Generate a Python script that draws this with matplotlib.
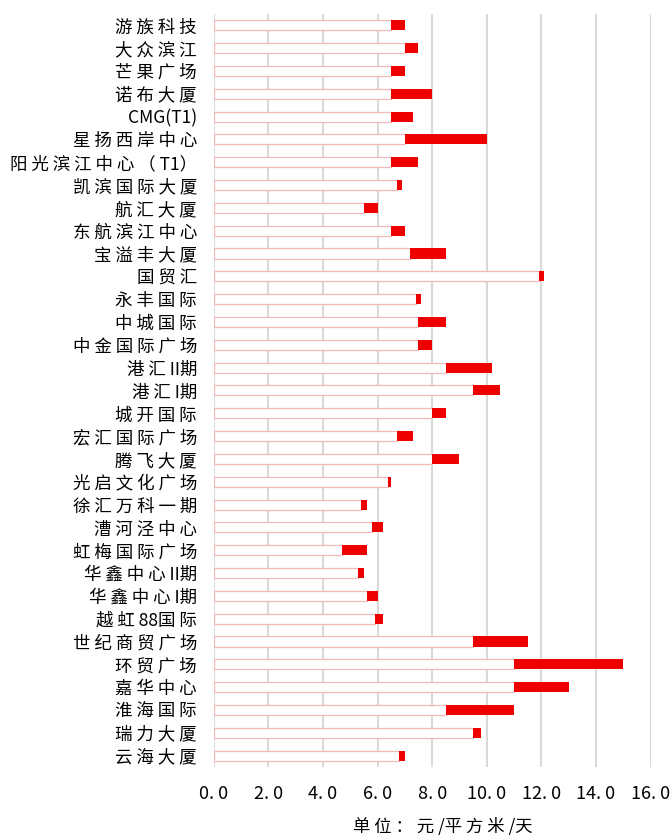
import numpy as np
import matplotlib
matplotlib.use('Agg')
import matplotlib.pyplot as plt

plt.rcParams['font.family'] = ['Noto Sans CJK SC', 'DejaVu Sans']

# 楼宇名称（从上到下）
buildings = ['游族科技', '大众滨江', '芒果广场', '诺布大厦', 'CMG(T1)', '星扬西岸中心',
             '阳光滨江中心（T1）', '凯滨国际大厦', '航汇大厦', '东航滨江中心', '宝溢丰大厦',
             '国贸汇', '永丰国际', '中城国际', '中金国际广场', '港汇II期', '港汇I期',
             '城开国际', '宏汇国际广场', '腾飞大厦', '光启文化广场', '徐汇万科一期',
             '漕河泾中心', '虹梅国际广场', '华鑫中心II期', '华鑫中心I期', '越虹88国际',
             '世纪商贸广场', '环贸广场', '嘉华中心', '淮海国际', '瑞力大厦', '云海大厦']
# 租金下限 / 上限（元/平方米/天）
rent_low = [6.5, 7.0, 6.5, 6.5, 6.5, 7.0, 6.5, 6.7, 5.5, 6.5, 7.2,
            11.9, 7.4, 7.5, 7.5, 8.5, 9.5, 8.0, 6.7, 8.0, 6.4, 5.4,
            5.8, 4.7, 5.3, 5.6, 5.9, 9.5, 11.0, 11.0, 8.5, 9.5, 6.8]
rent_high = [7.0, 7.5, 7.0, 8.0, 7.3, 10.0, 7.5, 6.9, 6.0, 7.0, 8.5,
             12.1, 7.6, 8.5, 8.0, 10.2, 10.5, 8.5, 7.3, 9.0, 6.5, 5.6,
             6.2, 5.6, 5.5, 6.0, 6.2, 11.5, 15.0, 13.0, 11.0, 9.8, 7.0]
xticks = np.arange(0, 16.1, 2)


def spaced(s):
    # 原图字体字距较宽，中文字符后补一个空格
    out = ''
    for i, ch in enumerate(s):
        out += ch
        if ord(ch) > 0x2000 and i < len(s) - 1:
            out += ' '
    return out


low = np.array(rent_low)
high = np.array(rent_high)
pos = np.arange(len(buildings))

fig = plt.figure(figsize=(6.7, 8.35), dpi=100)
ax = fig.add_axes([0.319, 0.0814, 0.652, 0.902])

ax.barh(pos, low, height=0.44, color='white', edgecolor='#f5b8b8', linewidth=0.9, zorder=2)
ax.barh(pos, high - low, left=low, height=0.44, color='#ee0000', edgecolor='none', zorder=3)

ax.set_xlim(0, 16)
ax.set_ylim(len(buildings) - 0.5, -0.5)
ax.set_xticks(xticks)
ax.set_xticklabels([f'{v:.1f}'.replace('.', '. ') for v in xticks], fontsize=13)
ax.set_yticks(pos)
ax.set_yticklabels([spaced(b) for b in buildings], fontsize=12.6)
ax.tick_params(axis='both', length=0)
ax.tick_params(axis='y', pad=12)
ax.tick_params(axis='x', pad=13)
ax.grid(axis='x', color='#d9d9d9', linewidth=1.5, zorder=0)
ax.set_axisbelow(True)
for s in ax.spines.values():
    s.set_visible(False)
ax.set_xlabel(spaced('单位：元/平方米/天'), fontsize=12.5, labelpad=8)
ax.xaxis.set_label_coords(0.525, -0.067)

fig.savefig('out.png', dpi=100)
